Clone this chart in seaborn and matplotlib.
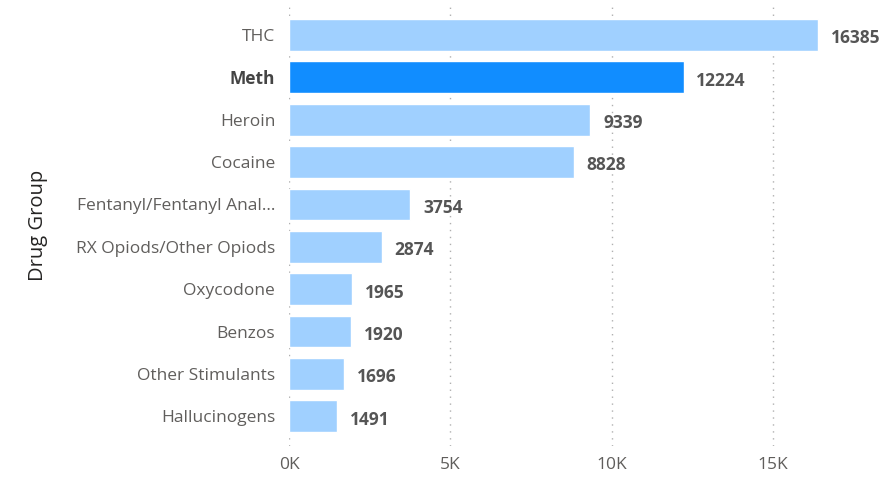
import matplotlib
matplotlib.use("Agg")
import matplotlib.pyplot as plt
import seaborn as sns
import pandas as pd

# data
drug_groups = ["THC", "Meth", "Heroin", "Cocaine", "Fentanyl/Fentanyl Anal...",
               "RX Opiods/Other Opiods", "Oxycodone", "Benzos",
               "Other Stimulants", "Hallucinogens"]
counts = [16385, 12224, 9339, 8828, 3754, 2874, 1965, 1920, 1696, 1491]
highlight = "Meth"
x_ticks = [0, 5000, 10000, 15000]
x_tick_labels = ["0K", "5K", "10K", "15K"]

df = pd.DataFrame({"Drug Group": drug_groups, "Count": counts})

light_blue = "#A0D0FF"
dark_blue = "#118DFF"
palette = {g: (dark_blue if g == highlight else light_blue) for g in drug_groups}

sns.set_theme(style="white")
plt.rcParams["font.family"] = ["Open Sans", "DejaVu Sans"]

fig = plt.figure(figsize=(8.94, 4.79), dpi=100)
ax = fig.add_axes([0.3233, 0.069, 0.657, 0.92])

sns.barplot(data=df, y="Drug Group", x="Count", hue="Drug Group",
            palette=palette, order=drug_groups, width=0.75,
            legend=False, ax=ax, saturation=1)

for i, v in enumerate(counts):
    ax.text(v + 400, i + 0.08, f"{v}", va="center", ha="left",
            fontsize=12.5, fontweight="bold", color="#555555")

ax.set_xlim(0, 18200)
ax.set_ylim(9.7, -0.7)
ax.set_xticks(x_ticks)
ax.set_xticklabels(x_tick_labels, fontsize=12.5, color="#605E5C")
ax.tick_params(axis="both", length=0, pad=10)
ax.tick_params(axis="x", pad=8)
for lbl in ax.get_yticklabels():
    lbl.set_fontsize(12.5)
    lbl.set_color("#605E5C")
    if lbl.get_text() == highlight:
        lbl.set_fontweight("bold")
        lbl.set_color("#444444")

ax.xaxis.grid(True, linestyle=(0, (1, 4)), color="#B0B0B0", linewidth=1)
ax.set_axisbelow(True)
for s in ax.spines.values():
    s.set_visible(False)

ax.set_xlabel("")
ax.set_ylabel("Drug Group", fontsize=14.5, color="#252423")
ax.yaxis.set_label_coords(-0.41, 0.5)

fig.savefig("out.png", dpi=100)
